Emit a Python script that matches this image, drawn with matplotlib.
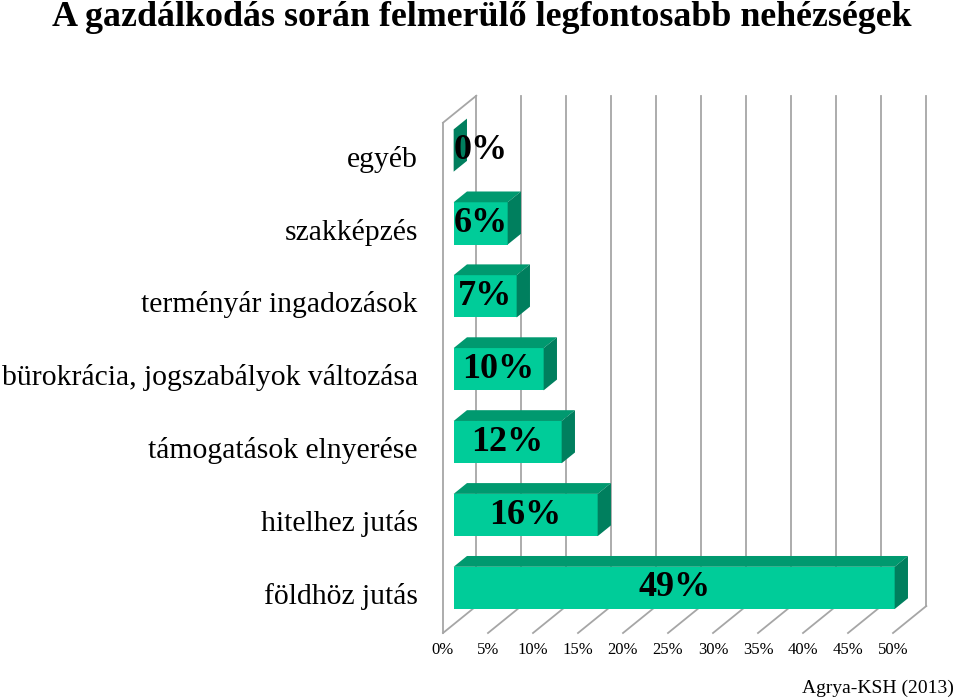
import matplotlib.pyplot as plt
from matplotlib.patches import Polygon

categories = ['földhöz jutás', 'hitelhez jutás', 'támogatások elnyerése',
              'bürokrácia, jogszabályok változása', 'terményár ingadozások',
              'szakképzés', 'egyéb']
values = [49, 16, 12, 10, 7, 6, 0]
ticks = [0, 5, 10, 15, 20, 25, 30, 35, 40, 45, 50]

front_c = '#00CC99'
top_c = '#00996F'
side_c = '#007F5E'
grid_c = '#A6A6A6'
serif = ['Liberation Serif', 'DejaVu Serif']

DX, DY = 3.7, 0.37      # depth of the 3d box (data units)
d0, d1 = 0.32, 0.72     # bar depth range
h = 0.58                # bar height
y_floor, y_top = -0.5, 6.5


def p(x, y, d):
    return (x + d * DX, y + d * DY)


fig = plt.figure(figsize=(9.6, 7), dpi=100)
# x=0 -> 443px, 9px per %, y=-0.5 -> 633px, 72.9px per unit
xl = (-1.0, 55.0)
yl = (-0.9, 6.95)
left = 443 + xl[0] * 9
right = 443 + xl[1] * 9
bottom = 633 - (yl[0] - y_floor) * 72.9
top = 633 - (yl[1] - y_floor) * 72.9
ax = fig.add_axes([left / 960, 1 - bottom / 700, (right - left) / 960, (bottom - top) / 700])
ax.set_xlim(*xl)
ax.set_ylim(*yl)
ax.axis('off')

# walls / grid
kw = dict(color=grid_c, lw=1.3, zorder=1)
ax.plot([0, 0], [y_floor, y_top], **kw)
ax.plot(*zip(p(0, y_top, 0), p(0, y_top, 1)), **kw)
for t in ticks:
    ax.plot(*zip(p(t, y_floor, 1), p(t, y_top, 1)), **kw)
    ax.plot(*zip(p(t, y_floor, 0), p(t, y_floor, 1)), **kw)
    ax.text(t, y_floor - 0.24, f'{t}%', ha='center', va='center',
            fontsize=12, family=serif)

# bars
for i, (cat, v) in enumerate(zip(categories, values)):
    yb, yt = i - h / 2, i + h / 2
    front = [p(0, yb, d0), p(v, yb, d0), p(v, yt, d0), p(0, yt, d0)]
    topf = [p(0, yt, d0), p(v, yt, d0), p(v, yt, d1), p(0, yt, d1)]
    side = [p(v, yb, d0), p(v, yt, d0), p(v, yt, d1), p(v, yb, d1)]
    if v > 0:
        ax.add_patch(Polygon(front, closed=True, fc=front_c, ec='none', zorder=3))
        ax.add_patch(Polygon(topf, closed=True, fc=top_c, ec='none', zorder=3))
    ax.add_patch(Polygon(side, closed=True, fc=side_c, ec='none', zorder=3))
    cx, cy = p(max(v / 2, 3.0), i, d0)
    ax.text(cx, cy, f'{v}%', ha='center', va='center', fontsize=26,
            fontweight='bold', family=serif, zorder=5)
    ax.text(-2.8, i, cat, ha='right', va='center', fontsize=21.3, family=serif)

fig.text(482 / 960, 1 - 17 / 700, 'A gazdálkodás során felmerülő legfontosabb nehézségek',
         ha='center', va='center', fontsize=25.8, fontweight='bold', family=serif)
fig.text(954 / 960, 1 - 688 / 700, 'Agrya-KSH (2013)', ha='right', va='center',
         fontsize=14, family=serif)

fig.savefig('out.png', dpi=100)
